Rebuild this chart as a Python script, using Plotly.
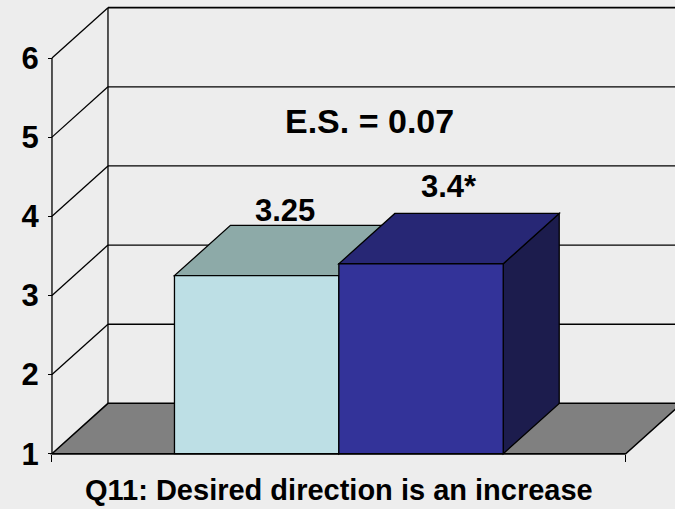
import plotly.graph_objects as go

# ---- data -------------------------------------------------------------
category = "Q11: Desired direction is an increase"
series_values = [3.25, 3.4]
value_labels = ["3.25", "3.4*"]
effect_size_text = "E.S. = 0.07"
y_ticks = [1, 2, 3, 4, 5, 6]

# ---- style --------------------------------------------------------------
front_colors = ["#BDDFE5", "#333399"]
top_colors = ["#8DAAA8", "#272775"]
side_colors = ["#A5C3C6", "#1C1C4D"]
floor_color = "#808080"
bg_color = "#EDEDED"
edge = "#000000"
font_family = "Liberation Sans, Arial, sans-serif"

BASE = y_ticks[0]          # floor level of the value axis
TOP = y_ticks[-1]          # top of the walls
BAR_W = 0.2865             # width of each bar, in category units
DX, DY = 0.0976, 0.636     # 3-D depth offset (x in category units, y in value units)
label_lift = [15, 27]      # pixel lift of each value label above its bar top

shapes = []


def poly(points, fill=None, width=1.3, color=edge):
    d = "M " + " L ".join(f"{x},{y}" for x, y in points) + " Z"
    shapes.append(dict(type="path", path=d, xref="x", yref="y",
                       fillcolor=fill if fill else "rgba(0,0,0,0)",
                       line=dict(color=color, width=width)))


def seg(x0, y0, x1, y1, width=1.3):
    shapes.append(dict(type="line", xref="x", yref="y", x0=x0, y0=y0,
                       x1=x1, y1=y1, line=dict(color=edge, width=width)))


left, right = -0.5, 0.5

# walls: side-wall diagonals and back-wall gridlines
for v in y_ticks[1:]:
    seg(left, v, left + DX, v + DY)
    seg(left + DX, v + DY, right + DX, v + DY, width=1.6 if v == TOP else 1.3)
seg(left + DX, BASE + DY, left + DX, TOP + DY)      # back-wall left edge
seg(right + DX, BASE + DY, right + DX, TOP + DY)    # back-wall right edge

# floor
poly([(left, BASE), (right, BASE), (right + DX, BASE + DY), (left + DX, BASE + DY)],
     fill=floor_color, width=1.5)

# bars (drawn left to right so the later bar sits in front)
for i, v in enumerate(series_values):
    x0 = -BAR_W + i * BAR_W
    x1 = x0 + BAR_W
    poly([(x1, BASE), (x1, v), (x1 + DX, v + DY), (x1 + DX, BASE + DY)],
         fill=side_colors[i])
    poly([(x0, v), (x1, v), (x1 + DX, v + DY), (x0 + DX, v + DY)],
         fill=top_colors[i])
    poly([(x0, BASE), (x1, BASE), (x1, v), (x0, v)], fill=front_colors[i])

# front value axis and front floor edge
seg(left, BASE, left, TOP, width=1.3)
seg(left, BASE, right, BASE, width=1.6)

annotations = []
for i, v in enumerate(series_values):
    x0 = -BAR_W + i * BAR_W
    annotations.append(dict(
        x=x0 + BAR_W / 2 + DX / 2, y=v + DY, xref="x", yref="y",
        text=f"<b>{value_labels[i]}</b>", showarrow=False,
        xanchor="center", yanchor="middle", yshift=label_lift[i],
        font=dict(family=font_family, size=31, color="black")))

annotations.append(dict(
    x=0.053, y=5.2, xref="x", yref="y", text=f"<b>{effect_size_text}</b>",
    showarrow=False, xanchor="center", yanchor="middle",
    font=dict(family=font_family, size=34, color="black")))

annotations.append(dict(
    x=0, y=0.038, xref="x", yref="paper", text=f"<b>{category}</b>",
    showarrow=False, xanchor="center", yanchor="middle",
    font=dict(family=font_family, size=29, color="black")))

fig = go.Figure()
fig.add_trace(go.Scatter(x=[None], y=[None], showlegend=False, hoverinfo="skip"))

fig.update_layout(
    width=675, height=509,
    margin=dict(l=0, r=0, t=0, b=0),
    paper_bgcolor=bg_color, plot_bgcolor="rgba(0,0,0,0)",
    showlegend=False,
    shapes=shapes, annotations=annotations,
    xaxis=dict(range=[-0.5906, 0.5859], anchor="free", position=0.1086,
               tickvals=[left, right], ticks="outside", ticklen=7,
               tickwidth=1.3, tickcolor=edge, showticklabels=False,
               showgrid=False, zeroline=False, showline=False, fixedrange=True),
    yaxis=dict(range=[0.3012, 6.7329], anchor="free", position=0.0770,
               tickvals=y_ticks, ticks="outside", ticklen=4, tickwidth=1.3,
               tickcolor=edge, ticklabelstandoff=3,
               tickfont=dict(family=font_family, size=31, color="black",
                             weight="bold"),
               showgrid=False, zeroline=False, showline=False, fixedrange=True),
)

fig.write_html("out.html")
